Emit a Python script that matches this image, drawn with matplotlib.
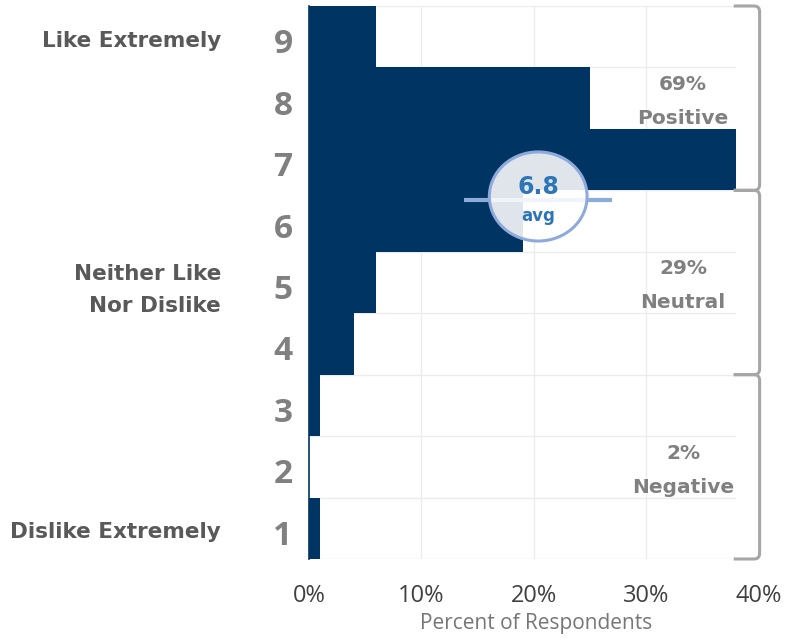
import matplotlib
matplotlib.use("Agg")
import matplotlib.pyplot as plt
from matplotlib.path import Path
from matplotlib.patches import PathPatch, Ellipse
import matplotlib.transforms as mtransforms

# ---- data ----
scores = [1, 2, 3, 4, 5, 6, 7, 8, 9]
percents = [1, 0, 1, 4, 6, 19, 38, 25, 6]
x_ticks = [0, 10, 20, 30, 40]
x_tick_labels = ["0%", "10%", "20%", "30%", "40%"]
anchor_labels = {9: "Like Extremely", 5: "Neither Like\nNor Dislike", 1: "Dislike Extremely"}
groups = [("69%", "Positive", 9.5, 6.5), ("29%", "Neutral", 6.5, 3.5), ("2%", "Negative", 3.5, 0.5)]
avg_value = 6.8
avg_x = 20.4
avg_y = 6.35
avg_err_low = 13.8
avg_err_high = 27.0
x_max = 38

NAVY = "#003462"
GRAY_LABEL = "#808080"
BRACKET = "#a6a6a6"
BLUE = "#2e75b6"
LIGHTBLUE = "#8eaadb"

W, H, DPI = 7.87, 6.38, 100
fig = plt.figure(figsize=(W, H), dpi=DPI)
ax = fig.add_axes([309/787, 1-559/638, (736-309)/787, (559-6)/638])

ax.barh(scores, percents, height=1.0, color=NAVY, zorder=2)
ax.set_xlim(0, x_max)
ax.set_ylim(0.5, 9.5)

# grid
for yb in [s + 0.5 for s in scores] + [0.5]:
    ax.axhline(yb, color="#ececec", lw=1, zorder=1)
for xv in x_ticks[1:-1]:
    ax.axvline(xv, color="#ececec", lw=1, zorder=1)

for sp in ["top", "right", "bottom"]:
    ax.spines[sp].set_visible(False)
ax.spines["left"].set_color(NAVY)
ax.spines["left"].set_linewidth(1.2)
ax.spines["left"].set_zorder(3)

ax.set_yticks(scores)
ax.set_yticklabels([str(s) for s in scores], fontsize=24, fontweight="bold",
                   color=GRAY_LABEL, family="Open Sans")
ax.tick_params(axis="y", length=0, pad=14)
shift = mtransforms.ScaledTranslation(0.03, -0.04, fig.dpi_scale_trans)
for lab in ax.get_yticklabels():
    lab.set_transform(lab.get_transform() + shift)

ax.set_xticks(x_ticks[:-1])
ax.set_xticklabels(x_tick_labels[:-1], fontsize=17, color="#404040", family="Open Sans")
ax.tick_params(axis="x", length=0, pad=18)

fig.canvas.draw()
bb = ax.get_xticklabels()[0].get_window_extent()
fig.text(ax.transData.transform((x_ticks[-1], 0))[0] / (W * DPI),
         (bb.y0 + bb.y1) / 2 / (H * DPI), x_tick_labels[-1],
         fontsize=17, color="#404040", family="Open Sans", ha="center", va="center")

fig.text(536/787, 1-623/638, "Percent of Respondents", fontsize=15, color="#767676",
         family="Open Sans", ha="center", va="center")

# anchor labels
for s, lab in anchor_labels.items():
    ypix = ax.transData.transform((0, s))[1] - (8 if "\n" in lab else 4)
    fig.text(221/787, ypix / (H * DPI), lab, fontsize=15.5, fontweight="bold",
             color="#595959", family="DejaVu Sans", ha="right", va="center",
             linespacing=1.75)

# brackets
rx, ry = 0.5, 0.09
xl, xr = 37.8, 40.1
for pct, name, ytop, ybot in groups:
    verts = [(xl, ytop), (xr - rx, ytop), (xr, ytop), (xr, ytop - ry),
             (xr, ybot + ry), (xr, ybot), (xr - rx, ybot), (xl, ybot)]
    codes = [Path.MOVETO, Path.LINETO, Path.CURVE3, Path.CURVE3,
             Path.LINETO, Path.CURVE3, Path.CURVE3, Path.LINETO]
    ax.add_patch(PathPatch(Path(verts, codes), fill=False, edgecolor=BRACKET,
                           lw=2.2, clip_on=False, zorder=4))
    yc = (ytop + ybot) / 2
    ax.text(33.3, yc + 0.22, pct, fontsize=14.5, fontweight="bold", color=GRAY_LABEL,
            family="DejaVu Sans", ha="center", va="center", zorder=5)
    ax.text(33.3, yc - 0.33, name, fontsize=14.5, fontweight="bold", color=GRAY_LABEL,
            family="DejaVu Sans", ha="center", va="center", zorder=5)

# average marker
ax.plot([avg_err_low, avg_err_high], [avg_y, avg_y], color=LIGHTBLUE, lw=3, zorder=5,
        solid_capstyle="butt")
ell = Ellipse((avg_x, avg_y + 0.05), width=8.7, height=1.45, facecolor="white",
              alpha=0.88, edgecolor="none", zorder=6)
ax.add_patch(ell)
ell2 = Ellipse((avg_x, avg_y + 0.05), width=8.7, height=1.45, facecolor="none",
               edgecolor=LIGHTBLUE, lw=2.2, zorder=7)
ax.add_patch(ell2)
ax.text(avg_x, avg_y + 0.2, f"{avg_value}", fontsize=17, fontweight="bold", color=BLUE,
        family="DejaVu Sans", ha="center", va="center", zorder=8)
ax.text(avg_x, avg_y - 0.27, "avg", fontsize=12, fontweight="bold", color=BLUE,
        family="DejaVu Sans", ha="center", va="center", zorder=8)

fig.savefig("out.png", dpi=DPI)
